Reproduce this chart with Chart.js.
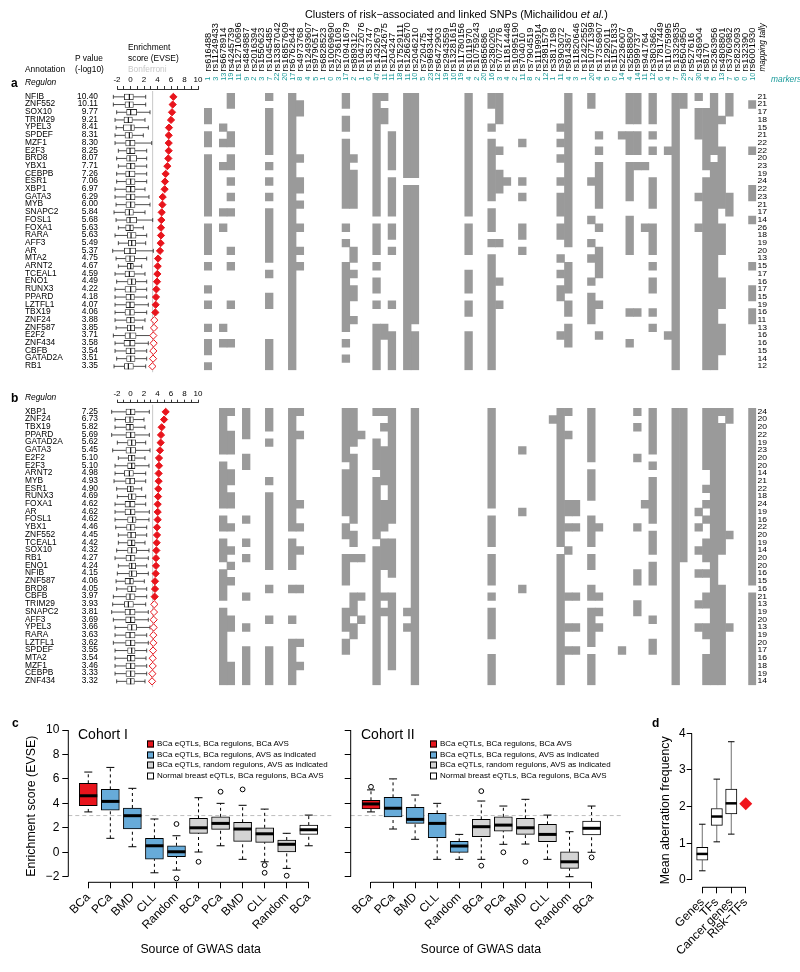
<!DOCTYPE html>
<html>
<head>
<meta charset="utf-8">
<title>Risk regulons</title>
<script src="https://cdn.jsdelivr.net/npm/chart.js@4.4.0/dist/chart.umd.min.js"></script>
<style>
  html, body { margin: 0; padding: 0; background: #fff; }
  #page { position: relative; width: 800px; height: 972px; overflow: hidden; font-family: "Liberation Sans", Arial, sans-serif; color: #000; }
  #page canvas { position: absolute; }
  .lbl { position: absolute; white-space: nowrap; line-height: 1; transform: translateY(-50%); }
  .sw { position: absolute; width: 5px; height: 5px; border: 1px solid #000; transform: translateY(-50%); }
</style>
</head>
<body>
<div id="page">
  <canvas id="enrA"></canvas>
  <canvas id="matA"></canvas>
  <canvas id="enrB"></canvas>
  <canvas id="matB"></canvas>
  <canvas id="coh1"></canvas>
  <canvas id="coh2"></canvas>
  <canvas id="aberr"></canvas>

  <div class="lbl" style="left:305px;top:14px;font-size:10.8px">Clusters of risk−associated and linked SNPs (Michailidou <i>et al.</i>)</div>
  <div class="lbl" style="left:25px;top:69px;font-size:8.4px">Annotation</div>
  <div class="lbl" style="left:75px;top:58px;font-size:8.4px">P value</div>
  <div class="lbl" style="left:75px;top:69px;font-size:8.4px">(-log10)</div>
  <div class="lbl" style="left:128px;top:47px;font-size:8.4px">Enrichment</div>
  <div class="lbl" style="left:128px;top:58px;font-size:8.4px">score (EVSE)</div>
  <div class="lbl" style="left:128px;top:69px;font-size:8.4px;color:#c8c8c8">Bonferroni</div>
  <div class="lbl" style="left:11px;top:83px;font-size:12px;font-weight:bold">a</div>
  <div class="lbl" style="left:25px;top:82px;font-size:8.4px;font-style:italic">Regulon</div>
  <div class="lbl" style="left:771px;top:79px;font-size:8.4px;font-style:italic;color:#1a9b9b">markers</div>
  <div class="lbl" style="left:11px;top:398px;font-size:12px;font-weight:bold">b</div>
  <div class="lbl" style="left:25px;top:397px;font-size:8.4px;font-style:italic">Regulon</div>

  <div class="lbl" style="left:12px;top:723px;font-size:12px;font-weight:bold">c</div>
  <div class="lbl" style="left:652px;top:723px;font-size:12px;font-weight:bold">d</div>
  <div class="lbl" style="left:78px;top:734px;font-size:14px">Cohort I</div>
  <div class="lbl" style="left:361px;top:734px;font-size:14px">Cohort II</div>

  <div class="sw" style="left:147px;top:744px;background:#e8141c"></div>
  <div class="lbl" style="left:157px;top:744px;font-size:8px">BCa eQTLs, BCa regulons, BCa AVS</div>
  <div class="sw" style="left:147px;top:754.5px;background:#67abd9"></div>
  <div class="lbl" style="left:157px;top:754.5px;font-size:8px">BCa eQTLs, BCa regulons, AVS as indicated</div>
  <div class="sw" style="left:147px;top:765px;background:#d4d4d4"></div>
  <div class="lbl" style="left:157px;top:765px;font-size:8px">BCa eQTLs, random regulons, AVS as indicated</div>
  <div class="sw" style="left:147px;top:775.5px;background:#fff"></div>
  <div class="lbl" style="left:157px;top:775.5px;font-size:8px">Normal breast eQTLs, BCa regulons, BCa AVS</div>

  <div class="sw" style="left:430px;top:744px;background:#e8141c"></div>
  <div class="lbl" style="left:440px;top:744px;font-size:8px">BCa eQTLs, BCa regulons, BCa AVS</div>
  <div class="sw" style="left:430px;top:754.5px;background:#67abd9"></div>
  <div class="lbl" style="left:440px;top:754.5px;font-size:8px">BCa eQTLs, BCa regulons, AVS as indicated</div>
  <div class="sw" style="left:430px;top:765px;background:#d4d4d4"></div>
  <div class="lbl" style="left:440px;top:765px;font-size:8px">BCa eQTLs, random regulons, AVS as indicated</div>
  <div class="sw" style="left:430px;top:775.5px;background:#fff"></div>
  <div class="lbl" style="left:440px;top:775.5px;font-size:8px">Normal breast eQTLs, BCa regulons, BCa AVS</div>
</div>

<script>
// ---------- shared columns (SNP clusters)
const snps = ['rs616488','rs11249433','rs6678914','rs4245739','rs12710696','rs4849887','rs2016394','rs1550623',
  'rs1045485','rs13387042','rs16857609','rs6762644','rs4973768','rs12493607','rs9790517','rs6828523',
  'rs10069690','rs2736108','rs10941679','rs889312','rs10472076','rs1353747','rs1432679','rs11242675',
  'rs204247','rs17529111','rs12662670','rs2046210','rs720475','rs9693444','rs6472903','rs2943559',
  'rs13281615','rs11780156','rs1011970','rs10759243','rs865686','rs2380205','rs7072776','rs11814448',
  'rs10995190','rs704010','rs7904519','rs11199914','rs2981579','rs3817198','rs3903072','rs614367',
  'rs11820646','rs12422552','rs10771399','rs17356907','rs1292011','rs11571833','rs2236007','rs2588809',
  'rs999737','rs941764','rs3803662','rs17817449','rs11075995','rs13329835','rs6504950','rs527616',
  'rs1436904','rs8170','rs2363956','rs4808801','rs3760982','rs2823093','rs132390','rs6001930'];
const clusterSize = [1,3,13,19,11,9,2,3,7,22,20,17,8,4,5,1,0,3,17,2,1,6,47,11,11,18,11,10,5,23,12,19,10,19,4,
  2,20,16,3,4,2,11,8,2,12,1,11,4,3,1,20,4,5,0,14,4,14,11,12,6,4,7,29,2,30,4,5,13,7,6,0,10];
const bonferroni = 3.28;

// ---------- panel a
const regA = ['NFIB','ZNF552','SOX10','TRIM29','YPEL3','SPDEF','MZF1','E2F3','BRD8','YBX1','CEBPB','ESR1',
  'XBP1','GATA3','MYB','SNAPC2','FOSL1','FOXA1','RARA','AFF3','AR','MTA2','ARNT2','TCEAL1','ENO1','RUNX3',
  'PPARD','LZTFL1','TBX19','ZNF24','ZNF587','E2F2','ZNF434','CBFB','GATAD2A','RB1'];
const pvalA = [10.40,10.11,9.77,9.21,8.41,8.31,8.30,8.25,8.07,7.71,7.26,7.06,6.97,6.29,6.00,5.84,5.68,5.63,
  5.63,5.49,5.37,4.75,4.67,4.59,4.49,4.22,4.18,4.07,4.06,3.88,3.85,3.71,3.58,3.54,3.51,3.35];
const evseA = [6.35,6.25,6.15,6.0,5.7,5.66,5.66,5.66,5.6,5.46,5.21,5.11,5.06,4.77,4.72,4.62,4.57,4.52,4.52,
  4.47,4.37,4.08,4.03,3.98,3.93,3.83,3.78,3.73,3.68,3.53,3.48,3.38,3.43,3.38,3.34,3.24];
const sigA = 29;
const loA  = [-2.54,-2.54,-2.05,-2.29,-2.14,-2.29,-2.29,-1.8,-2.05,-1.8,-2.05,-2.05,-2.29,-2.29,-2.14,-2.44,
  -2.14,-1.8,-2.29,-1.8,-2.64,-2.14,-1.8,-2.29,-2.05,-2.29,-2.29,-2.29,-2.29,-2.29,-2.14,-2.54,-2.29,-2.29,-2.05,-2.44];
const q1A  = [-0.91,-0.81,-0.57,-0.96,-1.06,-0.81,-0.71,-0.57,-0.57,-0.57,-0.71,-0.67,-0.67,-0.67,-0.67,-0.81,
  -0.57,-0.71,-0.47,-0.32,-0.91,-0.71,-0.47,-0.81,-0.42,-0.81,-0.67,-0.67,-0.81,-0.57,-0.47,-0.81,-0.96,-0.67,-0.57,-0.91];
const medA = [-0.17,-0.17,0.03,-0.32,0.08,-0.17,-0.07,-0.07,-0.07,0.03,-0.17,0.03,0.03,0.03,0.03,-0.17,
  -0.07,-0.07,0.08,0.18,-0.07,-0.07,0.03,-0.17,0.18,0.03,0.03,-0.07,-0.07,0.03,0.03,-0.07,-0.07,0.03,0.03,-0.32];
const q3A  = [0.42,0.42,0.91,0.27,0.57,0.27,0.67,0.67,0.91,0.67,0.67,0.67,0.67,0.67,0.67,0.42,
  0.91,0.42,0.82,0.77,0.77,0.62,0.42,0.57,0.77,0.82,0.57,0.57,0.57,0.57,0.62,0.82,0.67,0.67,0.67,0.42];
const hiA  = [2.25,2.25,2.89,2.15,2.64,1.9,3.14,2.4,2.4,2.4,2.4,2.4,2.15,2.74,2.89,2.15,
  3.29,1.9,2.4,2.25,3.38,2.4,1.66,2.15,2.4,2.4,2.4,2.64,2.4,2.15,1.81,3.38,2.64,2.4,2.4,2.25];
const tallyA = [21,21,17,18,15,21,22,22,20,23,19,24,22,23,21,17,14,26,18,19,20,13,15,17,16,17,15,19,16,11,13,16,16,15,14,12];
// filled rows per SNP column (row ranges)
const cellsA = [
  '2-3,5-6,8-15,17-20,22,25,27,30,32-33,35','','4,6,9,15,17,30,32','0-1,5-6,8-9,11,13,15,20,22,27,32','','','','',
  '0,2-7,9,11,13,15-21,23,26-27,32-35','','','0-35','1-2,8,11-12,14,17,20,22','','','',
  '','','0-1,3-4,6-14,17,19,22-30,32,34','8,10-14,20-21,23,25-26,29','','','0-15,17-20,22,24-25,27,30-35','0,2-3,30-31',
  '5-9,11-15,17-18,20,27,31-35','','0-10,12-35','0-10,12-29,31-35','','','','',
  '','','0-15,17-20,23-25,27-28,31-35','','','0-1,4,6-13,15-17,19,21-35','0-3,7,10-12,19,24,27','11',
  '','6,11,13,17-18,20','','','','','4,6,8,11,13-15,17-18,21,23,25-26,31','0-19,22-25,27-28,30-32',
  '','','0-1,11,16,19,21,24,26-29','5,7,9-14,17,20-23,27,31','','','5','0-3,5-7,9-13,16-20,28,32',
  '0-3,5-7,9,28','9,17','0-3,5,7,11-14,17-20,22,24-25,28,30','','7,31','0-35','0-1','',
  '0,2-5,13,17','2-9,11-35','0-7,9-35','3,7-14,17-20,24-27,30-33','0-2,13-15','','','1,7,12-13,16,22,25-26,28-29'];

// ---------- panel b
const regB = ['XBP1','ZNF24','TBX19','PPARD','GATAD2A','GATA3','E2F2','E2F3','ARNT2','MYB','ESR1','RUNX3',
  'FOXA1','AR','FOSL1','YBX1','ZNF552','TCEAL1','SOX10','RB1','ENO1','NFIB','ZNF587','BRD8','CBFB','TRIM29',
  'SNAPC2','AFF3','YPEL3','RARA','LZTFL1','SPDEF','MTA2','MZF1','CEBPB','ZNF434'];
const pvalB = [7.25,6.73,5.82,5.69,5.62,5.45,5.10,5.10,4.98,4.93,4.90,4.69,4.62,4.62,4.62,4.46,4.45,4.42,
  4.32,4.27,4.24,4.15,4.06,4.05,3.97,3.93,3.81,3.69,3.66,3.63,3.62,3.55,3.54,3.46,3.33,3.32];
const evseB = [5.21,4.97,4.62,4.52,4.47,4.37,4.22,4.22,4.17,4.17,4.12,4.08,4.03,4.03,4.03,3.93,3.93,3.88,
  3.83,3.78,3.78,3.73,3.63,3.63,3.58,3.53,3.48,3.43,3.43,3.38,3.38,3.34,3.29,3.29,3.24,3.19];
const sigB = 25;
const loB  = [-2.79,-2.29,-2.29,-2.79,-1.95,-2.64,-1.8,-2.29,-2.29,-2.44,-2.05,-1.95,-2.29,-2.29,-2.29,-2.19,
  -1.8,-1.8,-2.05,-2.29,-1.8,-1.95,-2.14,-2.05,-2.54,-2.64,-2.79,-2.54,-2.29,-2.29,-2.54,-2.29,-2.29,-2.29,-2.29,-2.05];
const q1B  = [-0.67,-0.76,-0.67,-0.67,-0.42,-0.67,-0.32,-0.42,-0.91,-0.71,-0.47,-0.32,-0.81,-0.81,-0.42,-0.57,
  -0.42,-0.42,-0.42,-0.67,-0.22,-0.22,-0.81,-0.42,-0.67,-0.91,-0.81,-0.71,-0.42,-0.71,-0.71,-0.42,-0.47,-0.67,-0.67,-0.57];
const medB = [0.03,-0.07,-0.07,0.03,0.18,0.03,0.18,0.18,-0.17,-0.07,0.03,0.18,-0.07,0.03,0.32,0.03,
  0.08,0.18,0.18,0.03,0.18,0.18,-0.07,0.18,-0.07,-0.32,-0.07,0.03,0.18,-0.07,0.03,0.18,0.03,0.03,0.03,0.03];
const q3B  = [0.67,0.42,0.42,0.67,0.77,0.77,0.67,0.67,0.42,0.62,0.42,0.82,0.67,0.67,0.82,0.67,
  0.77,0.67,0.91,0.67,0.77,0.91,0.42,0.82,0.67,0.42,0.67,0.67,0.91,0.67,0.67,0.67,0.67,0.67,0.67,0.57];
const hiB  = [2.79,2.0,2.15,2.79,2.25,2.89,2.15,2.74,2.25,2.25,1.66,2.25,2.25,2.79,2.74,2.4,
  2.4,2.15,2.74,2.64,2.4,2.64,2.05,2.4,2.4,2.25,2.64,2.64,2.89,2.4,2.64,2.4,2.3,2.4,2.4,2.15];
const tallyB = [24,20,20,22,19,23,20,20,14,21,22,18,24,19,16,22,20,19,14,20,20,16,15,16,21,13,19,20,13,19,20,17,16,18,19,14];
const cellsB = [
  '','','0-5,7-12,14-15,17-19,21-24,26-35','0,3-5,8-9,11-12,15,18,20,22,27-28,33-35','','0-3,6-7,14,17,19,24,28,31-35','','',
  '0-2,4,9,11-20,23,27,31-35','','','0-15,17-20,23,27,30-35','0,3,12,15,18,23,30,33','','','',
  '','','0-6,8-13,15-16,19-22,26-28,30-31','0-4,6-14,16-17,19,24-26,28-29','3,19,24,27','','0,4-7,9-16,18-35','0,2,5-9,12-15,17-20,24,26',
  '0-14,17-21,24-33','','26,28','0-35','','','','',
  '','','','','','0-12,14-17,19-22,24,26-29,32-35','','',
  '','5,13,23','','','','1','0-17,19-35','0,3,12-13,15,18,24,28,31',
  '12-13,15,24,28,31','','0-6,8-11,14-17,19-20,23-24,26-30,32-35','15,24,26,28','','','31','',
  '0,2,6,15,21-22,25-26','12','0-5,7,9-14,16-18,20-22,27,30-31','','','0-35','0-19','',
  '13,15,18,21,25,28','0-7,10,12,14,17-19,21,24-25,28-29,32-35','0-35','0,2-18,23-35','0-1,16,28','','','0-22,24-35'];

// ---------- panel c (EVSE by source of GWAS data)
const gwasSrc = ['BCa','PCa','BMD','CLL','Random','BCa','PCa','BMD','CLL','Random','BCa'];
const groupFill = ['#e8141c','#67abd9','#67abd9','#67abd9','#67abd9','#d4d4d4','#d4d4d4','#d4d4d4','#d4d4d4','#d4d4d4','#ffffff'];
const c1Lo  = [3.3,1.14,0.45,-1.68,-1.46,0.02,0.53,-0.58,-0.78,-1.32,0.53];
const c1Q1  = [3.81,3.45,1.9,-0.56,-0.37,1.55,1.87,0.89,0.81,0.02,1.46];
const c1Med = [4.62,4.16,2.99,0.53,0.04,2.0,2.36,1.9,1.51,0.65,1.84];
const c1Q3  = [5.64,5.14,3.62,1.14,0.53,2.77,2.9,2.45,2.0,1.0,2.22];
const c1Hi  = [6.56,6.94,5.23,2.72,1.35,4.46,4.0,3.84,3.53,1.55,3.04];
const c1Out = [[],[],[],[],[2.31,-2.14],[-0.78],[4.95],[5.14],[-1.05,-1.68],[-1.92],[]];
const c2Lo  = [3.3,1.9,1.06,-0.58,-0.58,-0.58,0.65,0.67,-0.58,-2.0,0.0];
const c2Q1  = [3.55,2.9,2.36,1.19,-0.01,1.27,1.73,1.46,0.86,-1.32,1.41];
const c2Med = [3.95,3.6,2.69,2.36,0.51,2.09,2.22,2.0,1.46,-0.78,1.96];
const c2Q3  = [4.25,4.49,3.67,3.18,0.89,2.69,2.9,2.77,2.28,0.04,2.55];
const c2Hi  = [5.1,6.0,4.68,4.0,1.46,4.19,3.78,4.33,3.04,1.68,3.78];
const c2Out = [[5.35],[],[],[],[],[5.0,-1.1],[0.0],[-0.78],[],[],[-0.42]];
const evseTicks = [-2,0,2,4,6,8,10];

// ---------- panel d (mean aberration frequency)
const aberrCats = ['Genes','TFs','Cancer genes','Risk−TFs'];
const dLo  = [0.25,1.04,1.25];
const dQ1  = [0.54,1.49,1.8];
const dMed = [0.71,1.73,2.09];
const dQ3  = [0.89,1.95,2.48];
const dHi  = [1.52,2.75,3.77];
const riskTF = 2.08;
const aberrTicks = [0,1,2,3,4];

Chart.defaults.font.family = '"Liberation Sans", Arial, sans-serif';
Chart.defaults.color = '#000';

const ROW = 7.7, COL = 7.67, MAT_L = 204;
const FONT = '"Liberation Sans", Arial, sans-serif';

function place(id, L, T, W, H) {
  const c = document.getElementById(id);
  c.width = W; c.height = H;
  c.style.left = L + 'px'; c.style.top = T + 'px';
  return c;
}
const base = { responsive: false, animation: false, devicePixelRatio: 1, events: [] };
const noPlug = { legend: { display: false }, tooltip: { enabled: false } };

// ---------- enrichment score strip (names, p values, null boxes, diamonds)
const enrPlugin = {
  id: 'enr',
  beforeDatasetsDraw(chart, a, o) {
    const { ctx, chartArea, scales: { x, y } } = chart;
    ctx.save();
    ctx.strokeStyle = '#c8c8c8'; ctx.lineWidth = 1;
    const bx = x.getPixelForValue(bonferroni);
    ctx.beginPath(); ctx.moveTo(bx, chartArea.top + 2); ctx.lineTo(bx, chartArea.bottom + 2); ctx.stroke();
    ctx.strokeStyle = '#222'; ctx.lineWidth = 0.8;
    o.lo.forEach((v, i) => {
      const py = y.getPixelForValue(i + 0.5);
      const pl = x.getPixelForValue(v), pr = x.getPixelForValue(o.hi[i]);
      ctx.beginPath();
      ctx.moveTo(pl, py); ctx.lineTo(x.getPixelForValue(o.q1[i]), py);
      ctx.moveTo(x.getPixelForValue(o.q3[i]), py); ctx.lineTo(pr, py);
      ctx.moveTo(pl, py - 2); ctx.lineTo(pl, py + 2);
      ctx.moveTo(pr, py - 2); ctx.lineTo(pr, py + 2);
      ctx.stroke();
    });
    ctx.restore();
  },
  afterDatasetsDraw(chart, a, o) {
    const { ctx, scales: { x, y } } = chart;
    ctx.save(); ctx.strokeStyle = '#000'; ctx.lineWidth = 1.1;
    o.med.forEach((v, i) => {
      const py = y.getPixelForValue(i + 0.5), px = x.getPixelForValue(v);
      ctx.beginPath(); ctx.moveTo(px, py - 2.8); ctx.lineTo(px, py + 2.8); ctx.stroke();
    });
    ctx.fillStyle = '#000'; ctx.font = '8.4px ' + FONT; ctx.textBaseline = 'middle';
    o.names.forEach((n, i) => {
      const py = y.getPixelForValue(i + 0.5) - 0.5;
      ctx.textAlign = 'left'; ctx.fillText(n, 25, py);
      ctx.textAlign = 'right'; ctx.fillText(o.pvals[i].toFixed(2), 98, py);
    });
    ctx.restore();
  }
};

function enrichmentChart(id, T, axisY, rowTop, names, pvals, evse, sig, lo, q1, med, q3, hi) {
  const L = 0, W = 205, H = 320, n = names.length;
  const c = place(id, L, T, W, H);
  const bottom = rowTop + n * ROW;
  new Chart(c, {
    type: 'bar',
    data: { datasets: [
      { type: 'bar', indexAxis: 'y', data: names.map((_, i) => ({ x: [q1[i], q3[i]], y: i + 0.5 })),
        backgroundColor: '#fff', borderColor: '#222', borderWidth: 0.8, borderSkipped: false, barThickness: 5.6 },
      { type: 'scatter', data: names.map((_, i) => ({ x: evse[i], y: i + 0.5 })),
        pointStyle: 'rectRot', pointRadius: 3.6, pointBorderWidth: 1, pointBorderColor: '#e8141c',
        pointBackgroundColor: names.map((_, i) => i < sig ? '#e8141c' : '#fff') }
    ] },
    options: Object.assign({}, base, {
      layout: { padding: { left: 117 - L, right: L + W - 198, top: axisY - T - 14, bottom: T + H - bottom } },
      plugins: Object.assign({}, noPlug, { enr: { names, pvals, lo, q1, med, q3, hi } }),
      scales: {
        x: { type: 'linear', position: 'top', min: -2, max: 10, offset: false,
             afterFit: s => { s.height = 14; },
             afterBuildTicks: s => { s.ticks = [-2,-1,0,1,2,3,4,5,6,7,8,9,10].map(v => ({ value: v })); },
             ticks: { autoSkip: false, maxRotation: 0, padding: 1, font: { size: 8 },
                      callback: v => (v % 2 === 0 ? String(v) : '') },
             grid: { drawOnChartArea: false, offset: false, tickLength: 3, color: '#000', lineWidth: 0.8 },
             border: { display: true, color: '#000', width: 0.8 } },
        y: { type: 'linear', display: false, reverse: true, offset: false, grid: { offset: false },
             min: -(rowTop - axisY) / ROW, max: n }
      }
    }),
    plugins: [enrPlugin]
  });
}

// ---------- SNP matrix (cells, header, mapping tally)
function parseRuns(s) {
  if (!s) return [];
  return s.split(',').map(p => { const [a, b] = p.split('-').map(Number); return [a, isNaN(b) ? a : b]; });
}
function cellDatasets(cells) {
  const runs = cells.map(parseRuns);
  const depth = Math.max(...runs.map(r => r.length));
  const sets = [];
  for (let k = 0; k < depth; k++) {
    sets.push({ data: runs.map(r => (r[k] ? [r[k][0], r[k][1] + 1] : null)),
      backgroundColor: '#9a9a9a', borderWidth: 0, barPercentage: 1, categoryPercentage: 1, grouped: false });
  }
  return sets;
}
const matPlugin = {
  id: 'mat',
  afterDraw(chart, a, o) {
    const { ctx, chartArea, scales: { x, y } } = chart;
    ctx.save();
    ctx.fillStyle = '#000'; ctx.textBaseline = 'middle'; ctx.textAlign = 'left';
    o.tally.forEach((t, r) => {
      ctx.save();
      ctx.translate(chartArea.right + 1.2, y.getPixelForValue(r + 0.5));
      ctx.scale(1, 0.78);
      ctx.font = '8.6px ' + FONT; ctx.fillText(String(t), 0, 0);
      ctx.restore();
    });
    if (o.header) {
      const top = o.top;
      snps.forEach((nm, j) => {
        const px = x.getPixelForValue(j);
        ctx.save(); ctx.translate(px, 71.5 - top); ctx.rotate(-Math.PI / 2);
        ctx.font = '9.3px ' + FONT; ctx.fillStyle = '#000'; ctx.fillText(nm, 0, 0.4);
        ctx.restore();
        ctx.save(); ctx.translate(px, 80.8 - top); ctx.rotate(-Math.PI / 2);
        ctx.font = '7.4px ' + FONT; ctx.fillStyle = '#1a9b9b'; ctx.fillText(String(clusterSize[j]), 0, 0.4);
        ctx.restore();
      });
      ctx.save(); ctx.translate(chartArea.right + 6.5, 71.5 - top); ctx.rotate(-Math.PI / 2);
      ctx.font = 'italic 8.2px ' + FONT; ctx.fillStyle = '#000'; ctx.fillText('mapping tally', 0, 0);
      ctx.restore();
    }
    ctx.restore();
  }
};
function matrixChart(id, T, H, rowTop, cells, tally, header) {
  const L = 195, W = 605;
  const c = place(id, L, T, W, H);
  const right = MAT_L + snps.length * COL, bottom = rowTop + 36 * ROW;
  new Chart(c, {
    type: 'bar',
    data: { labels: snps, datasets: cellDatasets(cells) },
    options: Object.assign({}, base, {
      layout: { padding: { left: MAT_L - L, right: L + W - right, top: rowTop - T, bottom: T + H - bottom } },
      plugins: Object.assign({}, noPlug, { mat: { tally, header, top: T } }),
      scales: {
        x: { type: 'category', display: false, offset: true },
        y: { type: 'linear', display: false, reverse: true, min: 0, max: 36 }
      }
    }),
    plugins: [matPlugin]
  });
}

// ---------- boxplots (panels c, d)
const boxPlugin = {
  id: 'boxes',
  beforeDatasetsDraw(chart, a, o) {
    const { ctx, chartArea, scales: { x, y } } = chart;
    ctx.save();
    if (o.refLine !== undefined) {
      ctx.strokeStyle = '#bdbdbd'; ctx.lineWidth = 1; ctx.setLineDash([4, 3]);
      const ry = y.getPixelForValue(o.refLine);
      ctx.beginPath(); ctx.moveTo(chartArea.left, ry); ctx.lineTo(chartArea.right + (o.refExtra || 0), ry); ctx.stroke();
    }
    o.lo.forEach((v, i) => {
      const px = x.getPixelForValue(i);
      const pl = y.getPixelForValue(v), ph = y.getPixelForValue(o.hi[i]);
      ctx.strokeStyle = o.whiskerColor; ctx.lineWidth = 1; ctx.setLineDash(o.dash);
      ctx.beginPath();
      ctx.moveTo(px, pl); ctx.lineTo(px, y.getPixelForValue(o.q1[i]));
      ctx.moveTo(px, y.getPixelForValue(o.q3[i])); ctx.lineTo(px, ph);
      ctx.stroke();
      ctx.setLineDash([]); ctx.strokeStyle = '#000';
      ctx.beginPath();
      ctx.moveTo(px - o.capW / 2, pl); ctx.lineTo(px + o.capW / 2, pl);
      ctx.moveTo(px - o.capW / 2, ph); ctx.lineTo(px + o.capW / 2, ph);
      ctx.stroke();
    });
    ctx.restore();
  },
  afterDatasetsDraw(chart, a, o) {
    const { ctx, chartArea, scales: { x, y } } = chart;
    ctx.save(); ctx.strokeStyle = '#000'; ctx.lineWidth = o.medW;
    o.med.forEach((v, i) => {
      const px = x.getPixelForValue(i), py = y.getPixelForValue(v);
      ctx.beginPath(); ctx.moveTo(px - o.boxW / 2, py); ctx.lineTo(px + o.boxW / 2, py); ctx.stroke();
    });
    // R-style detached axes
    ctx.lineWidth = 1;
    ctx.beginPath();
    ctx.moveTo(chartArea.left, y.getPixelForValue(o.yTicks[0]));
    ctx.lineTo(chartArea.left, y.getPixelForValue(o.yTicks[o.yTicks.length - 1]));
    ctx.moveTo(x.getPixelForValue(0), chartArea.bottom);
    ctx.lineTo(x.getPixelForValue(o.nCats - 1), chartArea.bottom);
    ctx.stroke();
    ctx.restore();
  }
};

function boxChart(id, g, d) {
  const c = place(id, g.L, g.T, g.W, g.H);
  const n = d.cats.length;
  const sets = [
    { type: 'bar', data: d.q1.map((v, i) => ({ x: i, y: [v, d.q3[i]] })),
      backgroundColor: d.fill, borderColor: '#000', borderWidth: 1, borderSkipped: false, barThickness: d.boxW }
  ];
  const outs = [];
  (d.out || []).forEach((arr, i) => arr.forEach(v => outs.push({ x: i, y: v })));
  if (outs.length) sets.push({ type: 'scatter', data: outs, pointRadius: 2.4, pointBorderWidth: 1,
    pointBorderColor: '#000', pointBackgroundColor: '#fff' });
  if (d.extra) sets.push({ type: 'scatter', data: d.extra, pointStyle: 'rectRot', pointRadius: 6.5,
    pointBorderWidth: 0, pointBackgroundColor: '#f0141c' });
  new Chart(c, {
    type: 'bar',
    data: { datasets: sets },
    options: Object.assign({}, base, {
      layout: { padding: { left: g.l - g.L - g.yW, right: g.L + g.W - g.r, top: g.t - g.T, bottom: g.T + g.H - g.b - g.xH } },
      plugins: Object.assign({}, noPlug, { boxes: { lo: d.lo, q1: d.q1, med: d.med, q3: d.q3, hi: d.hi,
        boxW: d.boxW, capW: d.capW, medW: d.medW, dash: d.dash, whiskerColor: d.whiskerColor,
        refLine: d.refLine, refExtra: g.refExtra, yTicks: d.yTicks, nCats: n } }),
      scales: {
        x: { type: 'linear', min: g.xMin, max: g.xMax, offset: false,
             afterFit: s => { s.height = g.xH; },
             afterBuildTicks: s => { s.ticks = d.cats.map((_, i) => ({ value: i })); },
             ticks: { autoSkip: false, minRotation: 45, maxRotation: 45, padding: 2, font: { size: 12 },
                      callback: v => d.cats[v] },
             grid: { drawOnChartArea: false, offset: false, tickLength: 6, color: '#000' },
             border: { display: false },
             title: { display: !!d.xTitle, text: d.xTitle, font: { size: 12.3 }, padding: 0 } },
        y: { type: 'linear', min: g.yMin, max: g.yMax, offset: false,
             afterFit: s => { s.width = g.yW; },
             afterBuildTicks: s => { s.ticks = d.yTicks.map(v => ({ value: v })); },
             ticks: { display: d.yLabels, padding: g.yPad, font: { size: 12 },
                      callback: v => (v < 0 ? '−' + Math.abs(v) : String(v)) },
             grid: { drawOnChartArea: false, offset: false, tickLength: g.yTick, color: '#000' },
             border: { display: false },
             title: { display: !!d.yTitle, text: d.yTitle, font: { size: 12.4 }, padding: 0 } }
      }
    }),
    plugins: [boxPlugin]
  });
}

// ---------- build
enrichmentChart('enrA', 60, 89, 93, regA, pvalA, evseA, sigA, loA, q1A, medA, q3A, hiA);
matrixChart('matA', 0, 380, 93, cellsA, tallyA, true);
enrichmentChart('enrB', 375, 402.7, 408, regB, pvalB, evseB, sigB, loB, q1B, medB, q3B, hiB);
matrixChart('matB', 390, 300, 408, cellsB, tallyB, false);

const cohortBox = { fill: groupFill, cats: gwasSrc, boxW: 18, capW: 8, medW: 3, dash: [3, 3],
  whiskerColor: '#000', refLine: 3, yTicks: evseTicks, xTitle: 'Source of GWAS data' };
boxChart('coh1',
  { L: 0, T: 700, W: 345, H: 272, l: 68.3, r: 333, t: 730, b: 882.3, yW: 44.1, xH: 74.4,
    xMin: -0.907, xMax: 11.1, yMin: -2.458, yMax: 10, yPad: 3, yTick: 6 },
  Object.assign({}, cohortBox, { lo: c1Lo, q1: c1Q1, med: c1Med, q3: c1Q3, hi: c1Hi, out: c1Out,
    yLabels: true, yTitle: 'Enrichment score (EVSE)' }));
boxChart('coh2',
  { L: 330, T: 700, W: 310, H: 272, l: 350.7, r: 611, t: 730, b: 882.3, yW: 8, xH: 74.4,
    xMin: -0.92, xMax: 10.88, yMin: -2.458, yMax: 10, yPad: 3, yTick: 6, refExtra: 12 },
  Object.assign({}, cohortBox, { lo: c2Lo, q1: c2Q1, med: c2Med, q3: c2Q3, hi: c2Hi, out: c2Out,
    yLabels: false }));
boxChart('aberr',
  { L: 640, T: 700, W: 160, H: 272, l: 691.7, r: 753, t: 733.3, b: 887.3, yW: 33.1, xH: 70,
    xMin: -0.73, xMax: 3.5, yMin: -0.2, yMax: 4, yPad: 1, yTick: 5 },
  { fill: '#fff', cats: aberrCats, lo: dLo, q1: dQ1, med: dMed, q3: dQ3, hi: dHi,
    extra: [{ x: 3, y: riskTF }], boxW: 11.3, capW: 6.5, medW: 2.5, dash: [], whiskerColor: '#707070',
    yTicks: aberrTicks, yLabels: true, yTitle: 'Mean aberration frequency' });
</script>
</body>
</html>
